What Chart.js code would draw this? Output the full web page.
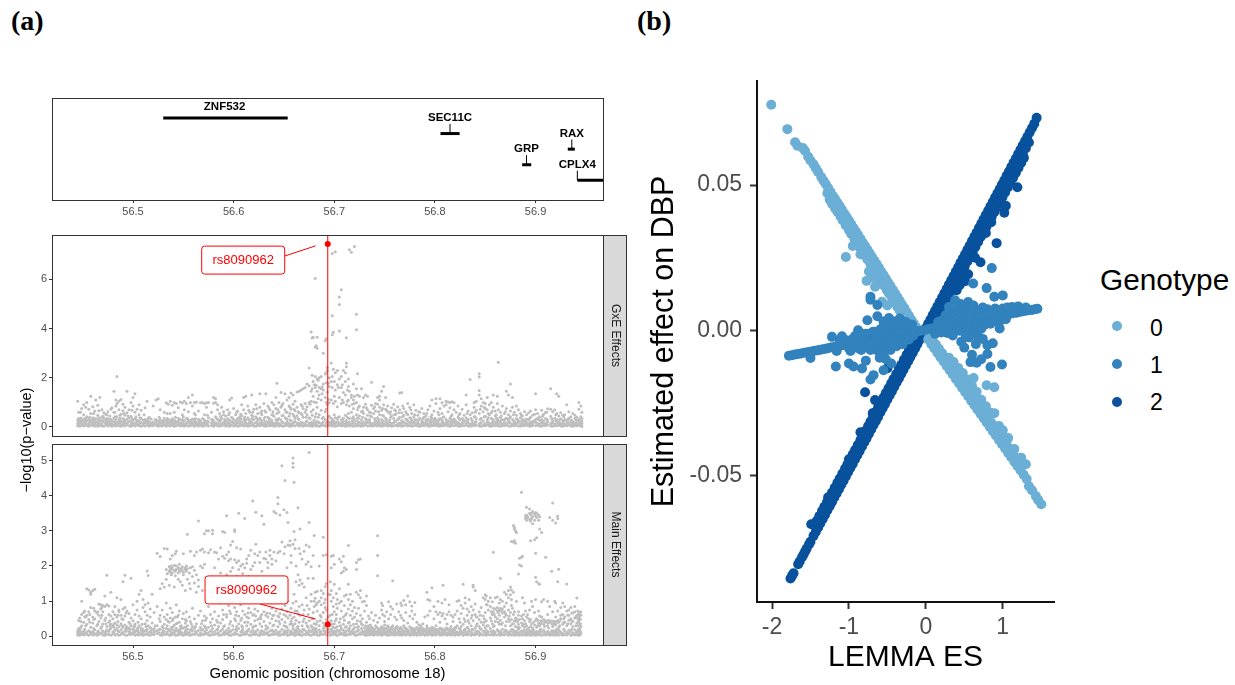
<!DOCTYPE html>
<html>
<head>
<meta charset="utf-8">
<script src="https://cdn.jsdelivr.net/npm/chart.js@4/dist/chart.umd.min.js"></script>
<style>
  body { margin: 0; background: #fff; font-family: "Liberation Sans", sans-serif; }
  #page { position: relative; width: 1235px; height: 685px; overflow: hidden; }
  canvas, .txt { position: absolute; }
  .tag { font: bold 28px "Liberation Serif", serif; top: 5px; }
  .lg { font-size: 23px; color: #000; left: 1150px; }
  .dot { position: absolute; left: 1112px; width: 10px; height: 10px; border-radius: 50%; }
</style>
</head>
<body>
<div id="page">
  <div class="txt tag" style="left:11px">(a)</div>
  <div class="txt tag" style="left:637px">(b)</div>
  <canvas id="genes" width="627" height="140" style="left:0;top:90px"></canvas>
  <canvas id="gxe" width="627" height="210" style="left:0;top:230px"></canvas>
  <canvas id="main" width="627" height="245" style="left:0;top:440px"></canvas>
  <canvas id="lemma" width="440" height="615" style="left:640px;top:70px"></canvas>
  <div class="txt" style="left:-34px;top:432px;width:120px;text-align:center;font-size:14.5px;white-space:nowrap;transform:rotate(-90deg)">−log10(p−value)</div>
  <div class="txt" style="left:1100px;top:263px;font-size:29.8px">Genotype</div>
  <div class="dot" style="top:321px;background:#6BAED6"></div><div class="txt lg" style="top:315px">0</div>
  <div class="dot" style="top:359px;background:#3182BD"></div><div class="txt lg" style="top:352px">1</div>
  <div class="dot" style="top:397px;background:#08519C"></div><div class="txt lg" style="top:389px">2</div>
</div>
<script>
// gene track
const geneNames = ["ZNF532", "SEC11C", "GRP", "RAX", "CPLX4"];
const geneStarts = [56.530, 56.8055, 56.8867, 56.932, 56.9415];
const geneEnds = [56.6537, 56.8245, 56.8957, 56.939, 56.975];
const geneLevels = [5, 4, 2, 3, 1];
const geneStems = [null, 56.815, 56.891, 56.936, 56.9415];
const geneLabelX = [56.591, 56.815, 56.891, 56.936, 56.9415];

const positionTicks = [56.5, 56.6, 56.7, 56.8, 56.9];
const gxeTicks = [0, 2, 4, 6];
const mainTicks = [0, 1, 2, 3, 4, 5];
const lemmaXTicks = [-2, -1, 0, 1];
const lemmaYTicks = [-0.05, 0, 0.05];

const leadSnp = 56.6935;
const snpName = "rs8090962";
const gxeLead = 7.43;
const mainLead = 0.34;

// each row is: position, then the -log10(p) values at that position
const gxeColumns = [
[56.445,.05,.14,.28,1.05],[56.446,.09,.22,.35,.6],[56.447,.03,.18,.3],[56.449,.07,.12,.25,.75],[56.451,.04,.2,.33,.5,.9],[56.452,.1,.16,.28],[56.454,.06,.24,.42,1.0],[56.456,.03,.13,.31,.72],[56.458,.08,.19,.27,.55,1.25],
[56.46,.05,.11,.23,.38,.82],[56.462,.04,.16,.29,.65],[56.463,.09,.21,.34,1.1],[56.465,.03,.15,.26,.48,.88],[56.467,.07,.18,.3,1.2],[56.469,.05,.12,.24,.4,.7],[56.471,.03,.2,.36,.58],[56.473,.08,.15,.27,.52],[56.475,.04,.11,.22,.33,.62],
[56.477,.06,.18,.29,.45],[56.479,.03,.14,.25,.78],[56.481,.07,.21,.36,.6,1.45],[56.483,.04,.12,.3,.85,1.1],[56.484,.09,.19,.42,.95,2.05],[56.486,.05,.16,.28,.7,1.05],[56.488,.03,.13,.24,.52,1.12],[56.49,.07,.2,.34,.66,.92],[56.492,.04,.17,.26,.48,.8],
[56.494,.09,.14,.31,.58,1.45],[56.496,.05,.22,.38,.7],[56.498,.03,.12,.25,.44,1.0],[56.5,.07,.18,.29,.85,1.2],[56.502,.04,.15,.33,.6,1.35],[56.504,.08,.2,.27,.72],[56.506,.05,.11,.24,.5,.9],[56.508,.03,.17,.35,.68],[56.51,.06,.13,.28],
[56.512,.04,.19,.3,.78],[56.514,.08,.14,.25,1.05],[56.516,.03,.11,.22,.4],[56.518,.06,.16,.32],[56.52,.05,.12,.2,.85],[56.523,.07,.18,.28,1.1],[56.525,.03,.1,.24,1.15],[56.527,.05,.16,.3,.7],[56.529,.04,.13,.22],
[56.531,.08,.2,.36,.6],[56.533,.03,.11,.26,.98],[56.535,.06,.17,.3,.92],[56.537,.04,.14,.24,.55,1.05],[56.539,.07,.19,.33,.88],[56.541,.03,.12,.27,.6,1.0],[56.543,.05,.16,.22,.95],[56.545,.08,.21,.36,.78],[56.547,.04,.13,.28,1.02],
[56.549,.06,.18,.3,.5,.97],[56.551,.03,.11,.25,.7,1.05],[56.553,.07,.15,.34,.95],[56.555,.04,.2,.28,.62,1.2],[56.557,.05,.12,.23,1.0],[56.559,.08,.17,.32,.85,1.3],[56.561,.03,.14,.26,.55,1.0],[56.563,.06,.1,.2,1.02],
[56.565,.04,.16,.31,.65],[56.567,.07,.19,.24,.98],[56.569,.03,.13,.35,1.0],[56.571,.05,.18,.27,.5,.95],[56.573,.08,.12,.22,.8,.98],[56.575,.04,.2,.38,1.0],[56.578,.06,.15,.3,.6],[56.58,.03,.11,.25,.96,1.2],
[56.582,.07,.17,.42,1.0,1.15],[56.584,.05,.14,.3,.7,.9],[56.586,.03,.21,.28,.55],[56.588,.06,.12,.36,.8],[56.59,.08,.18,.5,.62],[56.592,.04,.1,.24,.45],[56.594,.05,.16,.33,.7],[56.596,.03,.13,.27,.58,1.1],[56.598,.07,.2,.4,1.18],
[56.6,.04,.15,.3,.75],[56.602,.06,.11,.22,.5],[56.604,.03,.18,.35,.65],[56.606,.05,.14,.26,.42],[56.608,.08,.2,.46,.9],[56.61,.04,.12,.31,.7,1.2],[56.612,.06,.17,.28,.55,1.25],[56.614,.03,.1,.38,.85],[56.616,.05,.15,.24,.6],
[56.618,.07,.21,.34,.48,1.3],[56.62,.04,.13,.3,.72],[56.622,.03,.18,.42,.9],[56.624,.06,.11,.27,.55],[56.626,.05,.16,.36,.8,1.35],[56.628,.08,.2,.5,.65],[56.63,.04,.14,.29,.95],[56.632,.03,.1,.22,.6,1.35],[56.634,.06,.17,.4,.85],
[56.636,.05,.13,.32,.7],[56.638,.07,.19,.26,.5,1.0],[56.64,.03,.12,.44,.9],[56.642,.05,.16,.3,.75,1.2],[56.643,.08,.22,.55,1.78],[56.645,.04,.14,.35,.6,1.0],[56.647,.06,.1,.28,.8,1.4],[56.649,.03,.18,.48,.95],[56.651,.05,.13,.38,.7,1.35],
[56.653,.07,.2,.3,.6,1.1],[56.655,.04,.15,.44,.85,1.2],[56.657,.03,.11,.26,.72,1.38],[56.659,.06,.17,.52,.92,1.3],[56.661,.05,.22,.36,.66,1.05],[56.663,.08,.14,.46,.8,1.42],[56.665,.04,.12,.3,.58,1.45],[56.667,.06,.19,.55,.9,1.5],[56.669,.03,.16,.4,.75,1.55],
[56.671,.05,.13,.6,.95,1.6],[56.673,.07,.24,.5,.82,1.75],[56.675,.04,.15,.38,1.0,1.68,2.4],[56.677,.06,.11,.62,1.05,1.45,3.86],[56.678,.03,.2,.48,1.55,2.1,3.62],[56.679,.05,.14,.7,1.25,1.85,3.65],[56.681,.08,.18,.42,1.6,2.05,3.25,6.03],[56.682,.04,.12,.55,1.0,1.7,3.3],[56.683,.06,.22,.8,1.45,1.95,3.65,3.2],
[56.685,.03,.16,.5,1.3,2.0,1.6],[56.687,.05,.13,.68,1.1,1.55,2.05],[56.689,.07,.2,.4,1.5,1.75,3.0],[56.691,.04,.3,.62,1.2,2.15,3.5],[56.692,.06,.16,.72,1.0,1.8,2.2,3.58],[56.693,.03,.24,.9,1.42,2.3,2.42],[56.695,.05,.15,.44,.98,1.65,2.0],[56.697,.08,.2,.36,1.1,2.6,1.85],[56.698,.04,.12,.3,1.6,2.05,3.75,4.52,7.05],[56.699,.06,.17,.25,.95,2.35,3.85],
[56.701,.03,.14,.38,1.05,1.5,2.2,7.12],[56.703,.05,.2,.32,.82,1.72,2.3],[56.705,.07,.11,.42,1.2,1.95,3.9,4.98,5.28],[56.707,.04,.16,.28,.95,1.6,2.05,5.58],[56.709,.06,.22,.36,1.0,1.4,2.3],[56.711,.03,.13,.48,1.3,1.85,2.2],[56.712,.05,.18,.26,.9,2.45,2.6,3.63],[56.714,.08,.14,.55,1.1,1.65,1.95],[56.715,.04,.2,.34,.85,1.45,7.2],[56.717,.06,.12,.6,1.2,1.3,7.1],
[56.719,.03,.17,.42,.75,1.1,1.75],[56.72,.05,.15,.3,.95,1.25,7.33],[56.722,.07,.24,.5,1.0,1.55,3.95,4.58],[56.723,.04,.11,.38,.7,2.16,1.3],[56.725,.06,.19,.46,.85,1.25],[56.727,.03,.14,.28,.62,1.55],[56.729,.05,.2,.56,.8,1.2],[56.731,.08,.13,.34,.92,1.3],[56.733,.04,.17,.48,.7,1.25],
[56.735,.06,.22,.3,.6],[56.737,.03,.12,.42,.88,1.82],[56.739,.05,.16,.55,.75],[56.741,.07,.2,.26,.65,.95],[56.743,.04,.14,.38,.92,1.2],[56.745,.06,.11,.5,.8,1.1,1.25],[56.747,.03,.18,.3,.68,1.45],[56.749,.05,.24,.44,.9,1.65],[56.751,.08,.15,.36,.72,1.2],
[56.753,.04,.12,.62,.85],[56.755,.06,.2,.28,.55],[56.757,.03,.14,.46,.78],[56.759,.05,.17,.34,.92],[56.761,.07,.22,.52,.65],[56.763,.04,.1,.3,.82],[56.765,.06,.16,.4,.7,1.38],[56.767,.03,.13,.26,.58,1.4],[56.769,.05,.19,.48,.75],
[56.771,.08,.15,.32,.62],[56.773,.04,.11,.24,.5,.95],[56.775,.06,.18,.38,.8],[56.777,.03,.14,.28,.55],[56.779,.05,.2,.42,.9],[56.781,.07,.12,.3,.68],[56.783,.04,.16,.22,.48],[56.785,.03,.1,.36,.6],[56.787,.06,.17,.25,.75],
[56.789,.05,.13,.4,.55],[56.791,.08,.19,.28,.45],[56.793,.04,.11,.32,.7],[56.795,.03,.15,.22,.85],[56.797,.06,.2,.36,.5,1.1],[56.799,.05,.12,.26,.65],[56.801,.07,.17,.3,.95,1.15],[56.803,.04,.14,.24,.6],[56.805,.03,.1,.34,.75,1.15],
[56.807,.06,.18,.28,.55,.98],[56.809,.05,.13,.42,.85],[56.811,.08,.16,.3,.9,1.05],[56.813,.04,.11,.24,.62,1.02],[56.815,.03,.19,.36,.78,1.0],[56.817,.06,.14,.26,.5,1.03],[56.819,.05,.2,.32,.7,.98],[56.821,.07,.12,.22,.6],[56.823,.04,.17,.4,.85],
[56.825,.03,.1,.28,.55],[56.827,.06,.15,.34,.72],[56.829,.05,.2,.25,.48],[56.831,.08,.13,.38,.9,1.3],[56.833,.04,.18,.3,.65],[56.835,.03,.11,.5,1.93],[56.837,.06,.16,.26,.58],[56.839,.05,.14,.42,.8,1.0],[56.841,.07,.2,.32,.68,1.05],
[56.844,.04,.12,.55,1.3,1.48,2.03,2.16],[56.846,.03,.17,.36,.85,1.15],[56.848,.06,.24,.62,1.0],[56.85,.05,.13,.44,.75,.95],[56.852,.08,.19,.3,.7,1.2],[56.854,.04,.11,.5,.9],[56.856,.03,.15,.36,.58,1.0],[56.858,.06,.21,.28,.8,1.3],[56.86,.05,.14,.46,.65],
[56.862,.07,.18,.34,.95,1.25],[56.863,.04,.12,.26,.7,2.63],[56.865,.03,.2,.4,.6],[56.867,.06,.1,.3,.85],[56.869,.05,.16,.24,.55],[56.871,.08,.13,.36,.75,1.45],[56.873,.04,.19,.28,.5,1.3],[56.875,.03,.15,.42,.65,1.75],[56.877,.06,.11,.3,.8,1.2],
[56.879,.05,.17,.22,.6],[56.881,.07,.14,.34,.48,.85],[56.883,.04,.2,.26,.7],[56.885,.03,.12,.38,.55],[56.887,.06,.16,.3,.45],[56.889,.05,.1,.24,.62],[56.891,.08,.18,.32,.5],[56.893,.04,.13,.28,.58],[56.895,.03,.15,.4,.65,.2],
[56.897,.06,.11,.22,.48],[56.9,.05,.19,.3,.7,1.35],[56.902,.07,.14,.36,.55],[56.904,.04,.12,.26,.42],[56.906,.03,.17,.3,.68],[56.908,.06,.1,.24,.52],[56.91,.05,.15,.34,.6],[56.912,.08,.2,.28,.74],[56.915,.04,.13,.44,.72,1.55],
[56.917,.03,.16,.25,.62],[56.919,.06,.11,.36,.7],[56.921,.05,.18,.3,.55,1.35],[56.923,.07,.14,.22,.45,1.25],[56.925,.04,.12,.33,.58],[56.927,.03,.17,.26,.48],[56.929,.06,.1,.3,.5],[56.931,.05,.15,.24,.9],[56.933,.08,.13,.36,.62],
[56.935,.04,.2,.28,.42],[56.937,.03,.11,.22,.55],[56.939,.06,.16,.34,.48],[56.941,.05,.12,.26,.4],[56.943,.07,.18,.3,.72,1.0],[56.945,.04,.1,.2,.42,.85],[56.946,.03,.14,.24,.36,.6]
];

// more of the crowded low band
const gxeBand = [
[56.448,.2,.37,.6],[56.453,.15,.33,.8],[56.457,.22,.4],[56.461,.18,.3,.55],[56.466,.12,.38,.66],[56.47,.25,.44],[56.474,.17,.35,.5],[56.478,.1,.3,.72],[56.482,.19,.42,.6],[56.487,.24,.36,.48],[56.491,.13,.3,.55],[56.495,.2,.45],[56.499,.16,.34,.68],
[56.503,.11,.28,.42],[56.507,.2,.38],[56.511,.15,.26,.5],[56.515,.22,.34],[56.522,.14,.3],[56.526,.2,.4],[56.53,.1,.26],[56.534,.18,.34,.55],[56.538,.12,.28],[56.542,.22,.4],[56.546,.15,.3],[56.55,.1,.24,.42],[56.554,.18,.36],[56.558,.13,.28],
[56.562,.2,.34,.5],[56.566,.11,.26],[56.57,.16,.32],[56.574,.1,.24,.48],[56.579,.2,.3],[56.583,.14,.36],[56.587,.1,.26,.44],[56.591,.18,.3],[56.595,.12,.25,.5],[56.599,.2,.36],[56.603,.14,.28,.6],[56.607,.1,.34,.52],[56.611,.22,.4],[56.615,.16,.3,.68],
[56.619,.12,.44,.6],[56.623,.2,.36,.74],[56.627,.14,.28,.58],[56.631,.1,.4,.66],[56.635,.22,.34,.78],[56.639,.15,.5,.62],[56.644,.11,.3,.7],[56.648,.2,.46,.88],[56.652,.14,.36,.6],[56.656,.1,.28,.55,.8],[56.66,.2,.44,.72],[56.664,.16,.34,.62],[56.668,.12,.5,.85],[56.672,.22,.4,.7],
[56.676,.16,.34,.92],[56.68,.1,.28,1.02,1.72],[56.684,.2,.4,1.15,1.9],[56.688,.14,.34,1.35,1.62],[56.694,.1,.22,.4,1.12,1.78],[56.7,.22,.5,1.25,1.85],[56.704,.1,.2,.4,1.6],[56.708,.14,.3,1.1,1.72],[56.713,.1,.4,1.05,1.5],[56.718,.24,.36,.92],[56.724,.18,.34,.8],[56.728,.12,.4,.65],[56.732,.22,.3,.78],[56.736,.15,.45,.58],[56.74,.1,.34,.82],
[56.744,.22,.3,.62],[56.748,.13,.48,.75],[56.752,.2,.3,.68],[56.756,.1,.4,.62],[56.76,.24,.5,.7],[56.764,.15,.34,.58],[56.768,.2,.42,.85],[56.772,.12,.3,.55],[56.776,.2,.36,.7],[56.78,.16,.28,.5],[56.784,.1,.3,.62],[56.788,.2,.34],[56.792,.14,.26,.55],
[56.796,.1,.3,.42],[56.8,.18,.36],[56.804,.12,.28,.5],[56.808,.2,.4],[56.812,.14,.24],[56.816,.1,.3,.44],[56.82,.17,.26],[56.824,.12,.34,.5],[56.828,.2,.3],[56.832,.15,.26,.55],[56.836,.1,.34],[56.84,.2,.42,.6],[56.845,.15,.3,.72],[56.849,.1,.42,.8],
[56.853,.2,.38,.55],[56.857,.13,.3,.65],[56.861,.22,.36,.5],[56.866,.14,.28,.45],[56.87,.1,.32,.62],[56.874,.2,.36],[56.878,.12,.26,.5],[56.882,.18,.3],[56.886,.1,.24,.48],[56.89,.16,.3],[56.894,.12,.34],[56.899,.2,.26,.52],[56.903,.1,.3],
[56.907,.15,.24,.44],[56.911,.12,.3,.6],[56.916,.18,.34],[56.92,.1,.26,.5],[56.924,.16,.3],[56.928,.12,.24,.42],[56.932,.18,.3],[56.936,.1,.25],[56.94,.16,.3],[56.944,.12,.28]
];

const mainColumns = [
[56.445,.04,.1,.16],[56.446,.07,.13,.22,.45],[56.447,.03,.18,.52],[56.449,.06,.11,.3,.62,1.0],[56.451,.04,.15,.4,.68],[56.452,.09,.2,.56,.72],[56.454,.05,.12,.34,.6,1.35],[56.456,.03,.16,.48,.7,1.32],[56.458,.07,.1,.26,.82,1.25,1.2],
[56.46,.04,.14,.38,.55,1.3],[56.462,.06,.19,.5,.72,1.34],[56.464,.03,.08,.3,.66],[56.466,.05,.12,.42,.6,.92],[56.468,.08,.22,.52,.78,.9],[56.47,.04,.15,.35,.7,.88],[56.472,.03,.1,.46,.85,1.15],[56.474,.06,.18,.28,.9,1.74],[56.476,.05,.14,.4,.62,.86],
[56.478,.03,.24,.34,.58,1.25],[56.48,.07,.12,.3,.5,.7],[56.482,.04,.17,.38,.62,.85],[56.484,.06,.22,.33,.55,1.1],[56.486,.03,.13,.28,.7,.75],[56.488,.05,.19,.36,.6,1.05],[56.49,.08,.11,.25,.48,.78,1.55],[56.492,.04,.16,.32,.58,.82,1.74],[56.494,.03,.2,.27,.72],
[56.496,.06,.14,.24,.4,.65],[56.498,.05,.1,.3,.52,1.65],[56.5,.07,.18,.22,.44,.9],[56.502,.03,.13,.28,.35,.62],[56.504,.05,.16,.2,.75,1.0],[56.506,.04,.09,.3,.58,1.2],[56.508,.06,.17,.24,.5,1.3],[56.51,.03,.12,.19,.82,1.05],[56.512,.05,.15,.36,.7,.9],
[56.514,.07,.2,.45,.6,1.86],[56.515,.04,.1,.3,.95,1.73],[56.517,.03,.14,.25,.55,.78],[56.519,.06,.18,.38,1.2],[56.521,.05,.12,.22,.68],[56.524,.08,.16,.3,.85,2.36],[56.527,.04,.2,.42,.6,2.27,1.35],[56.529,.03,.1,.28,.75,1.5],[56.531,.06,.14,.34,.55,1.4,2.5],
[56.533,.05,.22,.48,.95,1.62,1.9],[56.534,.07,.12,.3,.62,1.78,2.48],[56.536,.04,.18,.4,1.45,1.85,1.98],[56.537,.03,.15,.52,.8,1.82,1.92,2.2],[56.538,.06,.1,.26,1.9,2.0,1.75],[56.539,.05,.2,.44,.68,1.8,1.95,2.3],[56.541,.08,.13,.32,1.4,1.88,2.02],[56.542,.04,.17,.55,1.85,1.72,2.35],[56.543,.03,.22,.36,.9,1.9,2.0,2.42],
[56.545,.06,.12,.6,1.8,1.95,1.62],[56.546,.05,.19,.4,.72,1.88,2.05],[56.547,.07,.14,.28,1.55,1.85,1.92],[56.549,.04,.1,.5,1.45,1.9,1.98],[56.55,.03,.24,.65,1.75,1.82,2.35],[56.552,.06,.16,.38,1.3,1.9,1.95],[56.553,.05,.13,.45,.7,1.85,2.0],[56.554,.08,.2,.3,1.62,1.92,2.9],
[56.556,.04,.11,.55,1.5,1.8],[56.557,.03,.18,.42,1.35,1.95,2.42],[56.559,.06,.15,.28,.8,1.7,1.98],[56.561,.05,.22,.5,1.52,1.88,2.3],[56.563,.07,.12,.36,1.25,1.75,2.4],[56.565,.04,.17,.6,1.42,1.6,3.28],[56.567,.03,.1,.25,.72,2.0,2.45],[56.569,.06,.2,.44,1.3,1.95,2.48],
[56.571,.05,.14,.3,.58,2.05,2.92,2.4],[56.573,.08,.19,.52,1.0,1.6,3.0],[56.575,.04,.11,.26,.85,2.38,3.0],[56.577,.03,.16,.4,.62,1.3,2.46],[56.579,.06,.22,.5,1.5,2.92,3.02],[56.581,.05,.13,.32,.7,1.95,2.4],[56.583,.07,.18,.46,1.0,2.38],[56.585,.04,.1,.28,.58,1.65,2.2],
[56.587,.03,.15,.38,.95,1.8,2.52],[56.589,.06,.2,.48,.75,2.28,2.98],[56.591,.05,.12,.3,1.1,2.22,2.95],[56.593,.08,.17,.55,.62,1.75,2.32,3.43],[56.595,.04,.11,.24,.88,2.15,2.4],[56.597,.03,.14,.42,.65,1.85,2.2,2.6],[56.599,.06,.19,.3,1.0,1.95,2.7],[56.601,.05,.1,.5,.82,2.18,3.03,2.98],
[56.603,.07,.16,.28,.7,1.7,2.1,2.52],[56.605,.04,.22,.36,.58,1.9,2.15,3.5],[56.607,.03,.13,.46,.9,2.0,2.48],[56.609,.06,.18,.25,.72,1.78,2.05],[56.611,.05,.11,.4,.62,1.95,3.35],[56.613,.08,.15,.3,.55,2.08,2.2],[56.615,.04,.2,.52,.8,1.7,2.3],[56.617,.03,.12,.34,.68,1.9,2.45],
[56.619,.06,.17,.26,.6,2.0,3.85],[56.621,.05,.1,.44,.78,2.35,2.1],[56.622,.07,.14,.3,.58,2.62,3.53],[56.624,.04,.19,.48,.72,2.3],[56.626,.03,.11,.36,.52,2.1,2.4],[56.628,.06,.16,.28,.62,1.85,3.43],[56.63,.05,.13,.42,.7,3.19,2.22],[56.632,.08,.2,.3,.6,2.2,2.4],
[56.634,.04,.1,.25,.55,1.95,2.1],[56.636,.03,.15,.38,.65,2.3,2.45],[56.638,.06,.18,.5,.8,2.05,2.2],[56.64,.05,.12,.32,.6,2.4,3.55],[56.642,.07,.17,.44,.72,2.15,3.5],[56.644,.04,.11,.27,.58,2.38,3.77,3.95],[56.646,.03,.14,.36,.65,2.42,3.45],[56.648,.06,.2,.48,.78,2.68,4.85],
[56.65,.05,.13,.3,.62,2.35,3.6],[56.651,.08,.16,.4,.88,2.55,4.43],[56.653,.04,.1,.26,.7,1.95,3.52],[56.654,.03,.18,.52,1.0,2.6,3.24],[56.656,.06,.12,.34,.6,2.58,2.72],[56.657,.05,.15,.42,.8,2.1,2.3],[56.659,.07,.22,.3,.95,2.62,4.81,4.92,5.07],[56.66,.04,.11,.55,1.2,2.98,4.38],
[56.661,.03,.17,.36,.72,2.5,2.75],[56.662,.06,.13,.46,1.0,1.55,2.0],[56.664,.05,.2,.28,.65,1.75,3.66],[56.665,.08,.1,.4,.85,1.45,2.5],[56.666,.04,.16,.6,1.6,2.35,3.05],[56.668,.03,.12,.3,.9,2.2,1.5],[56.67,.06,.19,.5,.75,1.4,2.42],[56.672,.05,.14,.38,1.1,2.6,2.05],
[56.674,.07,.11,.26,.62,2.12,1.65],[56.675,.04,.17,.44,.78,2.55,3.24,5.23],[56.677,.03,.13,.3,1.0,1.2,1.98],[56.679,.06,.2,.5,.68,1.65,2.3],[56.68,.05,.1,.36,.85,1.0,2.87],[56.681,.08,.15,.24,1.08,1.25],[56.683,.04,.12,.42,.72,.95,1.28],[56.685,.03,.18,.3,1.0,2.0],
[56.687,.06,.14,.55,.9,1.1,1.3],[56.689,.05,.22,.38,.68,1.22,2.82,2.3],[56.691,.07,.11,.26,.82,1.42,1.05],[56.692,.04,.16,.48,.75,1.5,2.32],[56.696,.03,.13,.3,.6,1.18,1.55],[56.697,.06,.2,.44,1.0,1.3,2.28,1.95],[56.699,.05,.1,.26,.85,1.1,2.3],[56.7,.08,.15,.36,.7,1.48,2.05],
[56.702,.04,.12,.5,.62,.92,1.22],[56.703,.03,.18,.28,.8,1.05],[56.705,.06,.14,.4,.95,2.2,1.35],[56.707,.05,.09,.24,.72,1.0,1.8,2.12],[56.709,.07,.17,.34,.55,1.85,2.28],[56.71,.04,.11,.46,.88,1.15,1.95],[56.712,.03,.15,.28,.65,1.18,1.9],[56.714,.06,.2,.38,.78,1.05,1.48,2.58],
[56.716,.05,.12,.3,.6,.9,1.2],[56.718,.08,.16,.5,.72,1.0],[56.72,.04,.1,.25,.55,.82],[56.722,.03,.14,.36,.65,1.25,2.1,1.9],[56.724,.06,.19,.28,.8,1.18,2.18],[56.726,.05,.11,.42,.6,1.1,1.3,2.2],[56.728,.07,.15,.32,.5,.98],[56.73,.04,.12,.24,.72,1.0],
[56.732,.03,.08,.18,.4,.88,1.15],[56.734,.06,.14,.3,.58],[56.735,.04,.1,.22,.5],[56.737,.05,.16,.26,.68],[56.739,.03,.12,.2,.45],[56.741,.07,.09,.3,.6],[56.743,.04,.15,.24,.4,1.72,2.3,2.86],[56.745,.06,.11,.18,.52],[56.747,.03,.13,.28,.75,.95],
[56.748,.05,.08,.2,.62,.88],[56.75,.07,.14,.32,.42,.58],[56.752,.04,.1,.24,.7],[56.754,.03,.17,.26,.5,.98],[56.756,.06,.12,.2,.62,.85],[56.758,.05,.09,.3,.78,1.58],[56.76,.03,.15,.22,.55],[56.762,.07,.11,.28,.48,.92],[56.764,.04,.13,.19,.7],[56.766,.06,.08,.25,.6,.95],
[56.767,.03,.14,.21,.52,.88],[56.769,.05,.1,.3,.45,1.02],[56.771,.04,.16,.24,.68,.9],[56.773,.07,.12,.18,.38,1.15],[56.775,.03,.09,.27,.58,.98],[56.777,.05,.15,.2,.72,.86],[56.778,.04,.11,.23,.5],[56.78,.06,.13,.17,.62,.96],[56.782,.03,.08,.25,.4],[56.784,.05,.14,.2,.33],
[56.786,.04,.1,.18,.28,.3],[56.788,.07,.12,.22,.36],[56.79,.03,.15,.19,.55],[56.792,.05,.09,.24,.3,1.25],[56.793,.04,.11,.16,.6,1.05],[56.795,.06,.13,.2,.72,1.02],[56.797,.03,.08,.17,.26,1.38],[56.799,.05,.14,.22,.5,.85],[56.801,.04,.1,.19,.3,.7],[56.803,.07,.12,.16,.62,1.0],
[56.805,.03,.09,.24,.4,.68],[56.807,.05,.13,.18,.58,.95],[56.808,.04,.11,.21,.65,1.45],[56.81,.06,.15,.17,.5,1.05],[56.812,.03,.08,.23,.35,.62],[56.814,.05,.12,.19,.7,.9],[56.816,.04,.1,.16,.28,.6],[56.818,.06,.14,.2,.42,.55],[56.82,.03,.09,.18,.25,.62],[56.822,.05,.12,.3,.72,1.0],
[56.824,.04,.1,.22,.5,1.02],[56.826,.07,.15,.28,.65,.88],[56.828,.03,.11,.34,.8,1.48],[56.83,.05,.14,.2,.42,.95,1.1],[56.832,.04,.09,.26,.6,.78],[56.834,.06,.17,.38,.7,1.05],[56.836,.03,.12,.3,.52,.85],[56.838,.05,.19,.44,.75,1.4,1.45],[56.84,.04,.1,.24,.62,.92,1.3],
[56.842,.07,.15,.36,.55],[56.844,.03,.12,.28,.48,.7],[56.846,.05,.2,.4,.82],[56.848,.04,.14,.32,.58,1.1],[56.85,.06,.1,.25,.68,1.05,1.18],[56.851,.03,.17,.44,.9,1.15],[56.853,.05,.13,.3,.75,1.0],[56.855,.04,.22,.52,.85,1.1],[56.857,.07,.11,.36,.62,.98],
[56.858,.03,.16,.28,.7,.8,2.39],[56.86,.05,.12,.42,.55,.78,1.1],[56.862,.04,.19,.5,.72,.82,1.12],[56.864,.06,.1,.34,.6,.75,.95],[56.865,.03,.14,.46,.8,1.05,1.65],[56.867,.05,.2,.38,.66,.78,1.0],[56.869,.04,.12,.55,.7,.85,1.25],[56.871,.07,.16,.42,.6,.95,1.2],[56.873,.03,.1,.5,.75,1.1,1.3],
[56.875,.05,.14,.3,.68,1.18,1.4],[56.876,.04,.19,.48,.88,1.05,2.7,1.32],[56.878,.06,.12,.36,.62,1.25,3.15,2.68],[56.879,.03,.16,.44,.7,3.1,3.05,2.72],[56.88,.05,.1,.28,.52,3.0,2.65],[56.881,.04,.14,.5,.42,1.0,2.95],[56.883,.07,.2,.34,.6,.7,1.77],[56.884,.03,.11,.25,.48,2.03,2.22],[56.886,.05,.15,.38,.58,2.25,4.1,2.0],[56.887,.04,.12,.3,.5,2.28,1.1],[56.889,.06,.18,.26,.44,.95],
[56.89,.03,.09,.36,.72,3.35,3.42],[56.891,.05,.14,.3,.55,3.3,3.67,3.45],[56.892,.04,.11,.2,.62,3.4,3.38],[56.894,.07,.16,.42,.75,3.62,3.32,3.5],[56.895,.03,.1,.28,.48,3.45,3.28,2.72],[56.896,.05,.13,.36,1.0,3.5,3.35],[56.897,.04,.19,.24,.85,3.4,3.55,3.2],[56.899,.06,.12,.32,.68,3.48,3.3,2.75],[56.9,.03,.08,.46,1.05,3.42,3.52,2.36,1.68],
[56.901,.05,.14,.26,.5,3.38,3.5,2.8,1.55],[56.903,.04,.1,.38,.72,3.3,3.45,1.5],[56.904,.07,.16,.3,.58,3.05,3.4,1.48],[56.906,.03,.12,.42,.55,2.95,.98],[56.908,.05,.18,.34,.48,1.05],[56.91,.04,.09,.44,.42,2.25],[56.912,.06,.14,.3,.62,.38,1.0],[56.914,.03,.11,.4,.85,3.38],[56.916,.05,.16,.36,.44,1.85],
[56.917,.04,.1,.28,.7,3.79,3.3],[56.919,.07,.13,.42,.38,1.0],[56.92,.03,.15,.32,.55,3.22,.95],[56.922,.05,.11,.45,.72,1.55,3.35,3.42],[56.923,.04,.18,.26,.4,1.91],[56.925,.06,.12,.5,.82,.6],[56.927,.03,.09,.34,.62,.95],[56.929,.05,.15,.4,.55,.85],[56.931,.04,.11,.3,.72,1.49],
[56.933,.07,.17,.46,.6,.75],[56.935,.03,.13,.36,.82,.5],[56.937,.05,.1,.28,.66,.42],[56.939,.04,.19,.52,.7,.85],[56.941,.06,.14,.38,.6,1.09],[56.942,.03,.12,.3,.72,.5],[56.943,.05,.16,.44,.66,.55],[56.944,.04,.22,.34,.62,.5],[56.945,.07,.1,.28,.7,.6]
];

const mainBand = [
[56.448,.12,.25,.42],[56.453,.08,.3,.55],[56.457,.14,.4,.62],[56.461,.1,.22,.48,.8],[56.465,.15,.34,.7],[56.469,.1,.28,.6,.82],[56.473,.14,.36,.52],[56.477,.2,.3,.44],[56.481,.1,.26,.35],[56.485,.15,.42,.6],[56.489,.1,.3,.5],[56.493,.14,.24,.66],[56.497,.2,.36],
[56.501,.1,.18,.3],[56.505,.14,.24,.4],[56.509,.1,.2,.34],[56.513,.16,.28],[56.518,.1,.22],[56.522,.15,.3],[56.526,.1,.2,.5],[56.53,.16,.24],[56.535,.2,.42],[56.54,.1,.28,.5],[56.544,.15,.38,.55],[56.548,.22,.3],[56.552,.1,.26,.48],[56.558,.2,.35],[56.562,.14,.28],
[56.568,.18,.36],[56.572,.1,.25,.46],[56.578,.14,.3],[56.584,.2,.4],[56.59,.1,.28,.62],[56.596,.16,.35,.72],[56.602,.2,.44,.6],[56.608,.12,.3,.52],[56.614,.16,.4,.66],[56.62,.1,.28,.62],[56.627,.14,.5,.58],[56.633,.1,.22,.66],[56.639,.15,.3,.6],[56.645,.1,.42,.55],
[56.652,.14,.28,.58],[56.658,.1,.36,.5],[56.663,.15,.26,.72],[56.669,.2,.42,.62],[56.673,.1,.3,.88],[56.678,.16,.26,.5],[56.682,.2,.34,.9],[56.686,.1,.44,.6],[56.69,.15,.3,.95],[56.694,.1,.2,.56,1.2],[56.698,.16,.34,.62],[56.701,.1,.24,.44],[56.706,.18,.3,.5],[56.711,.1,.26,.6],
[56.715,.14,.22,.4],[56.719,.1,.2,.34],[56.723,.16,.26,.44],[56.727,.1,.22,.36],[56.731,.06,.16,.3],[56.733,.12,.2,.26],[56.736,.07,.18,.32],[56.738,.1,.24],[56.74,.05,.14,.2],[56.742,.12,.26],[56.744,.07,.18],[56.746,.1,.22],[56.749,.05,.15,.24],[56.751,.1,.2],[56.753,.07,.14,.3],[56.755,.12,.18],
[56.757,.05,.2,.26],[56.759,.1,.16],[56.761,.07,.24],[56.763,.05,.18,.26],[56.765,.11,.2],[56.768,.07,.16],[56.77,.12,.24],[56.772,.05,.2],[56.774,.1,.16],[56.776,.07,.24],[56.779,.12,.18],[56.781,.05,.22],[56.783,.1,.16],[56.785,.07,.24],[56.787,.12,.17],[56.789,.05,.2],
[56.791,.1,.16],[56.794,.07,.22],[56.796,.12,.18],[56.798,.05,.24],[56.8,.1,.15],[56.802,.07,.2],[56.804,.12,.17],[56.806,.05,.22],[56.809,.08,.15],[56.811,.1,.24],[56.813,.06,.18],[56.815,.12,.22],[56.817,.05,.15],[56.819,.1,.2],[56.821,.07,.26],[56.825,.12,.2,.4],[56.829,.07,.18,.5],
[56.833,.13,.24,.45],[56.837,.08,.2,.6],[56.841,.14,.3,.55],[56.845,.08,.22,.6],[56.849,.15,.4,.5],[56.852,.1,.3,.9],[56.856,.14,.44,.7],[56.859,.08,.3,.62],[56.863,.16,.4,.68],[56.866,.1,.34,.72],[56.87,.18,.3,.65],[56.874,.12,.42,.58],[56.877,.2,.35,.8],
[56.882,.1,.26,.42],[56.888,.15,.34,.62],[56.893,.1,.24,.5],[56.898,.08,.18,.4],[56.902,.12,.3,.46],[56.905,.2,.36,.44],[56.909,.12,.28,.4],[56.913,.08,.24,.46],[56.918,.16,.34,.42],[56.921,.1,.2,.4],[56.924,.14,.3,.44],[56.928,.2,.4,.5],[56.932,.1,.36,.6],[56.936,.2,.44,.66],[56.94,.1,.3,.55],[56.9425,.2,.4,.6],[56.9445,.14,.36,.48]
];

// LEMMA effect size, estimated effect on DBP
const genotype0 = [
[-2.01,.0777],[-1.80,.0693],[-1.70,.0648],[-1.67,.0636],[-1.60,.0628],[-1.57,.0618],[-1.53,.0598],[-1.50,.0585],[-1.46,.0572],[-1.43,.0558],[-1.40,.0545],[-1.36,.0528],[-1.33,.0515],[-1.28,.0472],[-1.30,.0503],[-1.27,.0490],
[-1.24,.0477],[-1.21,.0463],[-1.18,.0452],[-1.15,.0440],[-1.12,.0428],[-1.09,.0415],[-1.06,.0402],[-1.03,.0390],[-1.0,.0378],[-.97,.0365],[-.94,.0352],[-.91,.0340],[-.88,.0328],[-.85,.0315],[-.82,.0302],[-.79,.0290],[-.76,.0278],[-.73,.0265],[-.70,.0252],[-.67,.0240],[-.64,.0228],[-.61,.0215],[-.58,.0202],[-.55,.0190],[-.52,.0177],[-.49,.0164],[-.46,.0152],[-.43,.0139],[-.40,.0127],[-.37,.0114],[-.34,.0101],[-.31,.0088],[-.28,.0076],[-.25,.0063],[-.22,.0050],[-.19,.0037],[-.16,.0025],[-.13,.0012],[-.10,.0],
[-1.25,.0450],[-1.22,.0436],[-1.18,.0420],[-1.15,.0408],[-1.11,.0392],[-1.08,.0378],[-1.04,.0361],[-1.0,.0345],[-.97,.0332],[-.93,.0315],[-.90,.0302],[-.86,.0285],[-.83,.0273],[-.79,.0257],[-.76,.0244],[-.72,.0227],[-.69,.0214],[-.65,.0198],[-.62,.0185],[-.58,.0168],[-.55,.0155],[-.51,.0139],[-.48,.0127],[-.44,.0110],[-.41,.0097],[-.37,.0080],[-.34,.0068],[-.30,.0051],[-.27,.0038],[-.23,.0022],[-.20,.0009],
[-1.2,.0445],[-1.16,.0428],[-1.13,.0415],[-1.09,.0399],[-1.06,.0386],[-1.02,.0370],[-.98,.0352],[-.95,.0340],[-.91,.0323],[-.88,.0311],[-.84,.0294],[-.81,.0281],[-.77,.0264],[-.74,.0252],[-.7,.0235],[-.67,.0222],[-.63,.0206],[-.6,.0193],[-.56,.0176],[-.53,.0164],[-.49,.0147],[-.46,.0134],[-.42,.0118],[-.39,.0105],[-.35,.0088],[-.32,.0075],[-.28,.0059],[-.25,.0046],[-.21,.0029],[-.18,.0016],
[-1.04,.0252],[-.77,.0170],[-.66,.0150],[-.57,.0098],[-.5,.0085],[-.95,.0290],[-.85,.0262],[-.74,.0202],[-.68,.0180],
[.03,-.0032],[.07,-.0048],[.11,-.0063],[.15,-.0078],[.19,-.0093],[.23,-.0108],[.27,-.0123],[.31,-.0138],[.35,-.0153],[.39,-.0168],[.43,-.0183],[.47,-.0198],[.51,-.0213],[.55,-.0228],[.59,-.0243],[.63,-.0258],[.67,-.0273],[.71,-.0288],[.75,-.0303],[.79,-.0318],[.83,-.0333],[.87,-.0348],[.91,-.0363],[.95,-.0378],[.99,-.0393],[1.03,-.0408],[1.07,-.0423],[1.11,-.0438],[1.15,-.0453],[1.19,-.0468],[1.23,-.0483],[1.27,-.0498],[1.31,-.0513],[1.34,-.0538],[1.38,-.0552],[1.43,-.0572],[1.46,-.0585],[1.5,-.0600],
[.05,-.0018],[.09,-.0034],[.13,-.0049],[.17,-.0064],[.21,-.0079],[.25,-.0094],[.29,-.0109],[.33,-.0124],[.37,-.0139],[.41,-.0154],[.45,-.0169],[.49,-.0184],[.53,-.0199],[.57,-.0214],[.61,-.0229],[.65,-.0244],[.69,-.0259],[.73,-.0274],[.77,-.0289],[.81,-.0304],[.85,-.0319],[.89,-.0334],[.93,-.0349],[.97,-.0364],[1.01,-.0379],[1.05,-.0394],[1.09,-.0409],[1.13,-.0424],[1.17,-.0439],[1.21,-.0450],
[.08,-.0042],[.12,-.0057],[.16,-.0072],[.2,-.0087],[.24,-.0102],[.28,-.0117],[.32,-.0132],[.36,-.0147],[.4,-.0162],[.44,-.0177],[.48,-.0192],[.52,-.0207],[.56,-.0222],[.6,-.0237],[.64,-.0252],[.68,-.0267],[.72,-.0282],[.76,-.0297],[.8,-.0312],[.84,-.0327],[.88,-.0342],[.92,-.0357],[.96,-.0372],[1.0,-.0387],[1.04,-.0402],[1.08,-.0417],[1.12,-.0432],[1.16,-.0447],
[.3,-.0095],[.36,-.0110],[.42,-.0130],[.48,-.0148],[.54,-.0170],[.6,-.0192],[.66,-.0212],[.72,-.0240],[.78,-.0262],[.84,-.0285],[.89,-.0286],[.95,-.0330],[1.0,-.0345],[1.07,-.0372],[1.15,-.0410],[1.3,-.0462],[1.24,-.0440],[.79,-.0190],[.89,-.0197],[.62,-.0165]
];

const genotype1 = [
[-1.78,-.0088],[-1.74,-.0086],[-1.70,-.0084],[-1.66,-.0082],[-1.62,-.0080],[-1.58,-.0078],[-1.54,-.0076],[-1.50,-.0074],[-1.5,-.0096],[-1.46,-.0072],[-1.42,-.0070],[-1.38,-.0068],[-1.34,-.0066],[-1.30,-.0064],[-1.26,-.0061],[-1.22,-.0059],[-1.18,-.0057],[-1.14,-.0055],[-1.10,-.0053],[-1.06,-.0051],[-1.02,-.0049],[-.98,-.0047],[-.94,-.0045],[-.90,-.0043],[-.86,-.0041],[-.82,-.0039],[-.78,-.0037],[-.74,-.0035],[-.70,-.0033],[-.66,-.0031],[-.62,-.0029],[-.58,-.0027],[-.54,-.0025],[-.50,-.0023],[-.46,-.0021],[-.42,-.0019],[-.38,-.0017],[-.34,-.0015],[-.30,-.0013],[-.26,-.0011],[-.22,-.0009],[-.18,-.0007],[-.14,-.0005],[-.10,-.0003],[-.06,-.0002],[-.02,.0],
[.02,.0003],[.06,.0005],[.10,.0007],[.14,.0009],[.18,.0011],[.22,.0013],[.26,.0015],[.30,.0017],[.34,.0019],[.38,.0021],[.42,.0022],[.46,.0024],[.50,.0026],[.54,.0028],[.58,.0030],[.62,.0032],[.66,.0034],[.70,.0036],[.74,.0038],[.78,.0040],[.82,.0042],[.86,.0044],[.90,.0046],[.94,.0048],[.98,.0050],[1.02,.0053],[1.06,.0055],[1.10,.0057],[1.14,.0059],[1.18,.0060],[1.22,.0063],[1.26,.0065],[1.30,.0067],[1.34,.0069],[1.38,.0070],[1.42,.0072],[1.45,.0074],
[-1.22,-.0023],[-1.09,-.0021],[-.88,.0],[-.84,-.0012],[-.92,-.0020],[-1.17,-.0125],[-1.0,-.0115],[-.94,-.0125],[-.83,-.0132],[-.78,-.0105],[-.72,-.017],[-.68,-.0155],[-.55,-.0138],[-.6,-.0095],[-.52,-.0100],[-.45,-.0115],
[-1.12,-.0035],[-1.0,-.0062],[-.95,-.0030],[-.88,-.0062],[-.8,-.0025],[-.76,-.0058],[-.7,-.0008],[-.66,-.0055],[-.6,.0],[-.56,-.0052],[-.52,.0012],[-.48,-.0045],[-.44,.0008],[-.4,-.0042],[-.36,.0018],[-.32,-.0036],[-.28,.0006],[-.24,-.0028],[-.2,.0010],[-.16,-.0018],
[-1.16,-.0072],[-1.04,-.0035],[-.98,-.0072],[-.9,-.0025],[-.84,-.0068],[-.78,-.0012],[-.72,-.0068],[-.68,-.0005],[-.62,-.0072],[-.58,.0005],[-.54,-.0075],[-.5,.0015],[-.46,-.0068],[-.42,.0030],[-.38,-.0055],[-.34,.0040],[-.3,-.0048],[-.26,.0028],[-.22,-.0032],[-.18,.0020],[-.74,-.0045],[-.64,-.0018],[-.54,-.0010],[-.44,-.0030],[-.34,-.0002],
[-.76,.0034],[-.72,.0115],[-.72,.0105],[-.63,.0087],[-.63,.0048],[-.55,.0030],[-.48,.0042],[-.42,.0022],[-.35,.0028],
[.12,-.0012],[.16,.0028],[.2,-.0008],[.24,.0040],[.28,-.0010],[.32,.0052],[.36,-.0005],[.4,.0062],[.44,-.0002],[.48,.0058],[.52,.0005],[.56,.0065],[.6,.0008],[.64,.0062],[.68,.0015],[.72,.0068],[.76,.0018],[.8,.0072],[.84,.0022],[.9,.0075],[.96,.0030],[1.0,.0075],[1.06,.0078],[1.12,.0080],[1.2,.0082],[1.3,.0078],
[.2,.0032],[.26,.0052],[.3,.0002],[.34,.0036],[.38,.0070],[.42,.0005],[.46,.0045],[.5,.0075],[.54,.0012],[.58,.0048],[.62,.0075],[.66,.0018],[.7,.0052],[.74,.0078],[.78,.0022],[.84,.0058],[.88,.0030],[.94,.0062],[1.04,.0038],[1.1,.0068],[.3,.0080],[.45,.0090],[.35,-.0018],[.52,-.0020],[.62,-.0005],[.72,.0005],
[.38,.0103],[.43,.0085],[.55,.0097],[.62,.0085],[.615,.0161],[.79,.0145],[.857,.0214],[.89,.0115],[1.0,.0120],[.68,-.0023],[.96,.0006],[.46,-.0040],[.5,-.0060],[.56,-.0025],[.6,-.0085],[.65,-.0048],[.8,-.0052],[.74,-.0030],[.87,-.0045],[.84,-.0127],[.99,-.0118],[.8,-.0082],[.58,-.0110],[.66,-.0112],[.72,-.0100]
];

const genotype2 = [
[-1.76,-.0856],[-1.74,-.0847],[-1.72,-.0838],[-1.66,-.0807],[-1.64,-.0797],[-1.61,-.0783],[-1.59,-.0773],[-1.57,-.0763],[-1.55,-.0753],[-1.52,-.0739],[-1.49,-.0669],[-1.5,-.0729],[-1.46,-.0709],[-1.43,-.0695],[-1.40,-.068],[-1.37,-.0665],[-1.34,-.0651],[-1.31,-.0636],[-1.28,-.0621],[-1.27,-.0576],[-1.25,-.0607],[-1.22,-.0592],[-1.19,-.0577],[-1.16,-.0563],[-1.13,-.0548],[-1.10,-.0533],[-1.07,-.0519],[-1.04,-.0504],[-1.01,-.0489],[-.98,-.0474],[-.95,-.046],[-.92,-.0445],[-.89,-.0430],[-.86,-.0416],[-.83,-.0401],[-.80,-.0386],[-.77,-.0372],[-.74,-.0357],[-.71,-.0342],[-.68,-.0327],[-.65,-.0313],[-.62,-.0298],[-.59,-.0283],[-.56,-.0268],[-.53,-.0254],[-.50,-.0239],[-.47,-.0224],[-.44,-.021],[-.41,-.0195],[-.38,-.018],[-.35,-.0166],[-.32,-.0151],[-.29,-.0136],[-.26,-.0122],[-.23,-.0107],[-.20,-.0092],[-.17,-.0078],[-.14,-.0063],[-.11,-.0048],[-.08,-.0033],[-.05,-.0018],
[-1.45,-.0672],[-1.42,-.0658],[-1.385,-.0641],[-1.35,-.0623],[-1.32,-.0609],[-1.285,-.0592],[-1.25,-.0575],[-1.22,-.056],[-1.185,-.0543],[-1.15,-.0526],[-1.12,-.0511],[-1.085,-.0494],[-1.05,-.0477],[-1.02,-.0462],[-1.0,-.0445],[-.985,-.0445],[-.95,-.0428],[-.92,-.0413],[-.885,-.0396],[-.85,-.0352],[-.85,-.0379],[-.82,-.0364],[-.785,-.0347],[-.75,-.033],[-.79,-.0214],[-.72,-.0315],[-.69,-.0286],[-.685,-.0298],[-.66,-.0241],[-.65,-.0281],[-.62,-.0266],[-.585,-.0249],[-.55,-.0232],[-.52,-.0217],[-.5,-.0131],[-.485,-.02],[-.45,-.0183],[-.42,-.0168],[-.385,-.0151],[-.35,-.0134],[-.32,-.0119],[-.285,-.0102],[-.25,-.0085],[-.22,-.007],[-.185,-.0053],[-.15,-.0036],
[-1.3,-.0613],[-1.26,-.0594],[-1.22,-.0575],[-1.18,-.0556],[-1.14,-.0536],[-1.1,-.0517],[-1.06,-.0497],[-1.02,-.0478],[-.98,-.0458],[-.94,-.0439],[-.9,-.0419],[-.86,-.04],[-.82,-.038],[-.78,-.036],[-.74,-.0341],[-.7,-.0321],[-.66,-.0302],[-.62,-.0282],[-.58,-.0262],[-.54,-.0243],[-.5,-.0223],[-.46,-.0204],[-.42,-.0184],[-.38,-.0164],[-.34,-.0145],[-.3,-.0125],[-.26,-.0105],[-.22,-.0086],[-.18,-.0066],
[.0,.0007],[.03,.0022],[.06,.0037],[.09,.0052],[.12,.0067],[.15,.0082],[.18,.0097],[.21,.0112],[.24,.0127],[.27,.0142],[.30,.0157],[.33,.0172],[.36,.0187],[.39,.0202],[.42,.0217],[.45,.0232],[.48,.0247],[.51,.0262],[.54,.0277],[.57,.0292],[.60,.0307],[.63,.0322],[.66,.0337],[.69,.0352],[.72,.0367],[.75,.0382],[.78,.0397],[.81,.0412],[.84,.0427],[.87,.0442],[.90,.0457],[.93,.0472],[.96,.0487],[.99,.0502],[1.02,.0517],[1.05,.0532],[1.08,.0547],[1.11,.0562],[1.14,.0577],[1.17,.0592],[1.2,.0607],[1.23,.0622],[1.26,.0637],[1.29,.0652],[1.32,.0667],[1.35,.0682],[1.38,.0697],[1.41,.0712],[1.44,.0732],
[.05,.0],[.085,.0016],[.12,.0033],[.155,.005],[.19,.0067],[.225,.0084],[.26,.0101],[.295,.0118],[.33,.0135],[.365,.0152],[.4,.0169],[.435,.0186],[.47,.0203],[.505,.022],[.54,.0237],[.575,.0254],[.61,.0271],[.645,.0288],[.68,.0305],[.715,.0322],[.75,.0339],[.785,.0356],[.82,.0373],[.855,.039],[.89,.0407],[.925,.0424],[.96,.0441],[.995,.0458],[1.03,.0475],[1.065,.0492],[1.1,.0509],[1.135,.0526],[1.17,.0543],[1.205,.056],[1.24,.0577],[1.275,.0594],
[.1,.0037],[.14,.0057],[.18,.0077],[.22,.0096],[.26,.0116],[.3,.0136],[.34,.0155],[.38,.0175],[.42,.0195],[.46,.0214],[.5,.0234],[.54,.0254],[.58,.0273],[.62,.0293],[.66,.0313],[.7,.0332],[.74,.0352],[.78,.0372],[.82,.0391],[.86,.0411],[.9,.0431],[.94,.045],[.98,.047],[1.02,.049],[1.06,.0509],[1.1,.0529],[1.14,.0549],[1.18,.0568],[1.22,.0588],[1.26,.0608],[1.3,.0627],[1.34,.0647],
[1.19,.0493],[1.04,.0429],[1.02,.0405],[.92,.030],[.71,.0234],[.64,.0250],[.55,.0193],[.51,.0169],[.4,.0138],[.44,.0155],[.78,.0335],[.85,.0372]
];

const xRange = { min: 56.4195, max: 56.967 };

function fixedTicks(values) {
  return scale => { scale.ticks = values.map(v => ({ value: v })); };
}

// tick labels must not push the plot area about
function fixSize(prop, size) {
  return s => {
    s[prop] = size;
    s.paddingTop = s.paddingBottom = s.paddingLeft = s.paddingRight = 0;
  };
}

function flatten(columns) {
  const pts = [];
  columns.forEach(c => c.slice(1).forEach(y => pts.push({ x: c[0], y: y })));
  return pts;
}

// box round the panel, grey strip on the right
function framePlugin(strip) {
  return {
    id: "frame",
    afterDatasetsDraw(chart) {
      const a = chart.chartArea, ctx = chart.ctx;
      ctx.save();
      ctx.strokeStyle = "#333";
      ctx.lineWidth = 1;
      ctx.strokeRect(a.left + 0.5, a.top + 0.5, a.width, a.height);
      if (strip) {
        ctx.fillStyle = "#d9d9d9";
        ctx.fillRect(a.right + 0.5, a.top + 0.5, 23, a.height);
        ctx.strokeRect(a.right + 0.5, a.top + 0.5, 23, a.height);
        ctx.translate(a.right + 12, (a.top + a.bottom) / 2);
        ctx.rotate(Math.PI / 2);
        ctx.fillStyle = "#1a1a1a";
        ctx.font = '12px "Liberation Sans"';
        ctx.textAlign = "center";
        ctx.textBaseline = "middle";
        ctx.fillText(strip, 0, 0);
      }
      ctx.restore();
    }
  };
}

function calloutPlugin(xv, yv) {
  return {
    id: "callout",
    afterDatasetsDraw(chart) {
      const ctx = chart.ctx;
      const x = chart.scales.x.getPixelForValue(xv);
      const y = chart.scales.y.getPixelForValue(yv);
      ctx.save();
      ctx.beginPath();
      ctx.roundRect(x - 41.5, y - 14, 83, 28, 3);
      ctx.fillStyle = "#fff";
      ctx.fill();
      ctx.strokeStyle = "#ff0000";
      ctx.lineWidth = 1;
      ctx.stroke();
      ctx.fillStyle = "#ff0000";
      ctx.font = '13px "Liberation Sans"';
      ctx.textAlign = "center";
      ctx.textBaseline = "middle";
      ctx.fillText(snpName, x, y + 0.5);
      ctx.restore();
    }
  };
}

function genePlugin() {
  return {
    id: "geneLabels",
    afterDatasetsDraw(chart) {
      const ctx = chart.ctx;
      ctx.save();
      ctx.fillStyle = "#000";
      ctx.font = 'bold 11.5px "Liberation Sans"';
      ctx.textAlign = "center";
      ctx.textBaseline = "middle";
      geneNames.forEach((name, i) => {
        const up = i === 0 ? 0.7 : 1;
        ctx.fillText(name, chart.scales.x.getPixelForValue(geneLabelX[i]),
          chart.scales.y.getPixelForValue(geneLevels[i] + up));
      });
      ctx.restore();
    }
  };
}

function lineSet(data, color, width) {
  return { type: "line", data: data, borderColor: color, borderWidth: width, pointRadius: 0, borderCapStyle: "butt", showLine: true, fill: false };
}

const tickFont = { size: 11 };
function baseOptions() {
  return {
    responsive: false,
    animation: false,
    events: [],
    plugins: { legend: { display: false }, tooltip: { enabled: false } },
    layout: { autoPadding: false, padding: 0 }
  };
}
function smallX(show) {
  return {
    type: "linear", min: xRange.min, max: xRange.max, display: show,
    afterBuildTicks: fixedTicks(positionTicks),
    grid: { drawOnChartArea: false, tickLength: 3, tickColor: "#333" },
    border: { display: false },
    ticks: { color: "#4d4d4d", font: tickFont, padding: 2, maxRotation: 0, autoSkip: false, callback: v => v.toFixed(1) }
  };
}
function smallY(min, max, values) {
  return {
    type: "linear", min: min, max: max,
    afterBuildTicks: fixedTicks(values),
    afterFit: fixSize("width", 52),
    grid: { drawOnChartArea: false, tickLength: 3, tickColor: "#333" },
    border: { display: false },
    ticks: { color: "#4d4d4d", font: tickFont, padding: 2, autoSkip: false }
  };
}

// gene panel
const geneSets = geneNames.map((n, i) => lineSet(
  [{ x: geneStarts[i], y: geneLevels[i] }, { x: geneEnds[i], y: geneLevels[i] }], "#000", 3));
geneStems.forEach((s, i) => {
  if (s !== null) geneSets.push(lineSet([{ x: s, y: geneLevels[i] }, { x: s, y: geneLevels[i] + 0.62 }], "#000", 1));
});
const geneOpts = baseOptions();
geneOpts.layout.padding = { left: 52, right: 24, top: 8 };
const geneX = smallX(true);
geneX.afterFit = fixSize("height", 30);
geneOpts.scales = { x: geneX, y: { type: "linear", display: false, min: -0.26, max: 6.28 } };
new Chart(document.getElementById("genes"), { type: "scatter", data: { datasets: geneSets }, options: geneOpts, plugins: [framePlugin(null), genePlugin()] });

// association panels
function assocChart(id, columns, lead, yMin, yMax, values, leader, box, strip, padding, xOpts) {
  const opts = baseOptions();
  opts.layout.padding = padding;
  opts.scales = { x: xOpts, y: smallY(yMin, yMax, values) };
  new Chart(document.getElementById(id), {
    type: "scatter",
    data: {
      datasets: [
        { data: [{ x: leadSnp, y: lead }], pointRadius: 3, backgroundColor: "#ff0000", borderWidth: 0 },
        lineSet(leader, "#ff0000", 1),
        lineSet([{ x: leadSnp, y: yMin }, { x: leadSnp, y: yMax }], "#ff0000", 1),
        { data: flatten(columns), pointRadius: 1.5, backgroundColor: "#bebebe", borderWidth: 0 }
      ]
    },
    options: opts,
    plugins: [framePlugin(strip), calloutPlugin(box[0], box[1])]
  });
}

assocChart("gxe", gxeColumns.concat(gxeBand), gxeLead, -0.366, 7.8, gxeTicks,
  [{ x: 56.651, y: 6.95 }, { x: 56.6815, y: 7.36 }], [56.6095, 6.78], "GxE Effects",
  { top: 5, bottom: 4, right: 24 }, smallX(false));

const mainX = smallX(true);
mainX.afterFit = fixSize("height", 40);
mainX.title = { display: true, text: "Genomic position (chromosome 18)", color: "#000", font: { size: 14.9 }, padding: { top: 0, bottom: 2 } };
assocChart("main", mainColumns.concat(mainBand), mainLead, -0.247, 5.47, mainTicks,
  [{ x: 56.6262, y: 0.92 }, { x: 56.6815, y: 0.49 }], [56.6128, 1.32], "Main Effects",
  { top: 4, right: 24 }, mainX);

// panel b, first dataset is drawn on top
const lemmaOpts = baseOptions();
lemmaOpts.layout.padding = { top: 11, right: 26 };
lemmaOpts.scales = {
  x: {
    type: "linear", min: -2.195, max: 1.666,
    afterBuildTicks: fixedTicks(lemmaXTicks),
    afterFit: fixSize("height", 83),
    grid: { drawOnChartArea: false, tickLength: 7, tickColor: "#333", tickWidth: 2 },
    border: { display: true, color: "#111", width: 2 },
    ticks: { color: "#4d4d4d", font: { size: 23 }, padding: 5, autoSkip: false, maxRotation: 0, callback: v => String(v) },
    title: { display: true, text: "LEMMA ES", color: "#000", font: { size: 30 }, padding: { top: 0, bottom: 9 } }
  },
  y: {
    type: "linear", min: -0.0937, max: 0.0859,
    afterBuildTicks: fixedTicks(lemmaYTicks),
    afterFit: fixSize("width", 117),
    grid: { drawOnChartArea: false, tickLength: 7, tickColor: "#333", tickWidth: 2 },
    border: { display: true, color: "#111", width: 2 },
    ticks: { color: "#4d4d4d", font: { size: 23 }, padding: 8, autoSkip: false, callback: v => v.toFixed(2) },
    title: { display: true, text: "Estimated effect on DBP", color: "#000", font: { size: 30.5 }, padding: { top: 6, bottom: 0 } }
  }
};
const toPoints = rows => rows.map(r => ({ x: r[0], y: r[1] }));
new Chart(document.getElementById("lemma"), {
  type: "scatter",
  data: {
    datasets: [
      { label: "1", data: toPoints(genotype1), pointRadius: 5, backgroundColor: "#3182BD", borderWidth: 0 },
      { label: "0", data: toPoints(genotype0), pointRadius: 5, backgroundColor: "#6BAED6", borderWidth: 0 },
      { label: "2", data: toPoints(genotype2), pointRadius: 5, backgroundColor: "#08519C", borderWidth: 0 }
    ]
  },
  options: lemmaOpts
});
</script>
</body>
</html>
